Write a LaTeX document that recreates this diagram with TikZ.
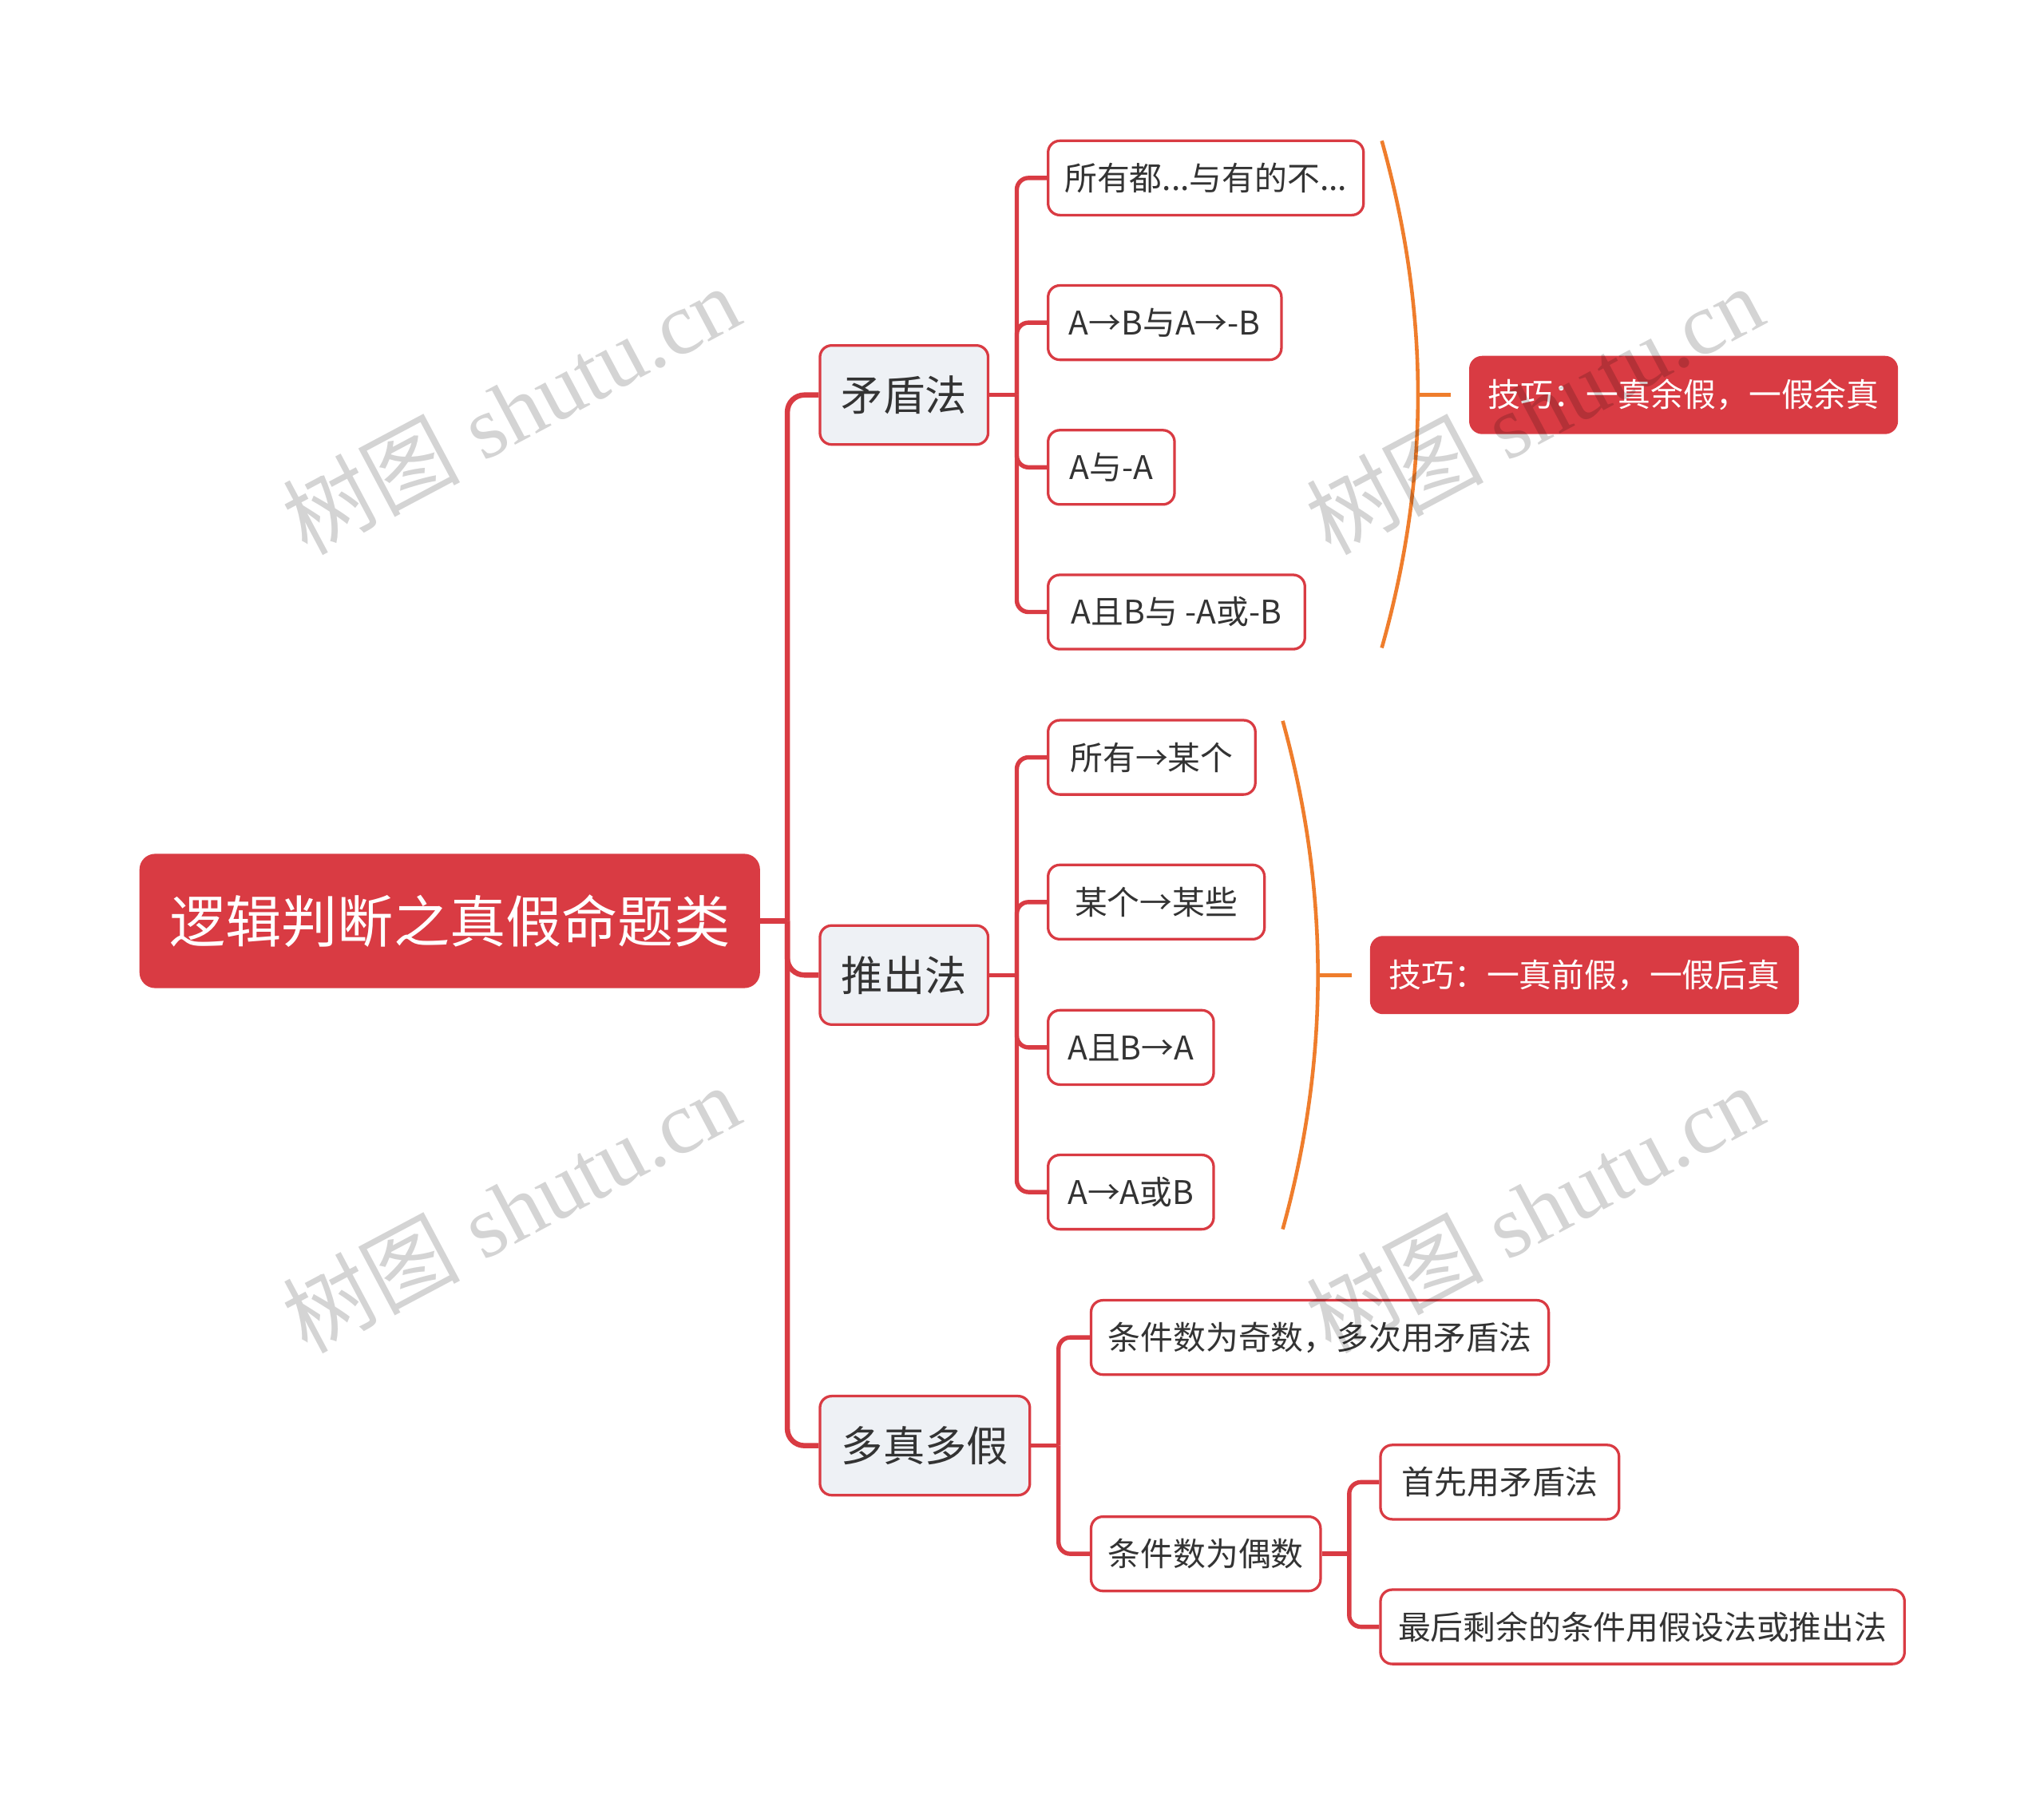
\documentclass[tikz,border=0pt]{standalone}
\usepackage{fontspec}
\setmainfont{Noto Sans CJK SC}
\newfontfamily\wmlat{Liberation Serif}
\newfontfamily\wmcjk{Noto Sans CJK SC}
\definecolor{mred}{HTML}{D93B43}
\definecolor{mgray}{HTML}{EEF1F5}
\definecolor{morange}{HTML}{EF7D2C}
\definecolor{mtext}{HTML}{333333}
\tikzset{
  box/.style={draw=mred, line width=2pt, rounded corners=9pt, anchor=west, inner xsep=6pt, inner ysep=0pt, text=mtext, align=center},
  leaf/.style={box, fill=white, font=\fontsize{25}{30}\selectfont, minimum height=57pt},
  mid/.style={box, fill=mgray, font=\fontsize{32}{38}\selectfont, minimum height=76pt},
  rootbox/.style={box, fill=mred, text=white, font=\fontsize{43}{50}\selectfont, minimum height=101pt, rounded corners=11pt},
  tip/.style={box, fill=mred, text=white, font=\fontsize{25}{30}\selectfont, minimum height=58pt},
  conn/.style={draw=mred, line width=3.3pt, rounded corners=9pt},
  rootconn/.style={draw=mred, line width=4pt, rounded corners=13pt},
  bracecurve/.style={draw=morange, line width=2.8pt},
  wm/.style={text=black, text opacity=0.17, rotate=28, inner sep=0pt}
}
\begin{document}
\begin{tikzpicture}[x=1pt, y=-1pt]
\useasboundingbox (0,0) rectangle (1568,1385);
\fill[white] (0,0) rectangle (1568,1385);

% junction coordinates
\coordinate (j0) at (604,706.5);
\coordinate (j1) at (780,303);
\coordinate (j2) at (780,748);
\coordinate (j3) at (812,1109);
\coordinate (j32) at (1035,1192);

% nodes
\node[rootbox, minimum width=474pt] (root) at (107,706.5) {逻辑判断之真假命题类};
\node[mid, minimum width=129pt] (c1) at (628,303) {矛盾法};
\node[mid, minimum width=129pt] (c2) at (628,748) {推出法};
\node[mid, minimum width=161pt] (c3) at (628,1109) {多真多假};

\node[leaf, minimum width=242pt] (l11) at (803,136.5) {所有都...与有的不...};
\node[leaf, minimum width=179pt] (l12) at (803,247.5) {A→B与A→-B};
\node[leaf, minimum width=97pt] (l13) at (803,358.5) {A与-A};
\node[leaf, minimum width=197pt] (l14) at (803,469.5) {A且B与 -A或-B};

\node[leaf, minimum width=159pt] (l21) at (803,581) {所有→某个};
\node[leaf, minimum width=166pt] (l22) at (803,692) {某个→某些};
\node[leaf, minimum width=127pt] (l23) at (803,803.5) {A且B→A};
\node[leaf, minimum width=127pt] (l24) at (803,914.5) {A→A或B};

\node[leaf, minimum width=351pt] (l31) at (836,1026) {条件数为奇数，多次用矛盾法};
\node[leaf, minimum width=176pt] (l32) at (836,1192) {条件数为偶数};
\node[leaf, minimum width=183pt] (l321) at (1058,1137) {首先用矛盾法};
\node[leaf, minimum width=402pt] (l322) at (1058,1248) {最后剩余的条件用假设法或推出法};

\node[tip, minimum width=327pt] (s1) at (1127,303) {技巧：一真余假，一假余真};
\node[tip, minimum width=327pt] (s2) at (1051,748) {技巧：一真前假，一假后真};

% connectors
\draw[rootconn] (root.east) -- (j0);
\foreach \c in {c1,c2,c3} \draw[rootconn] (j0) |- (\c.west);
\draw[conn] (c1.east) -- (j1);
\foreach \c in {l11,l12,l13,l14} \draw[conn] (j1) |- (\c.west);
\draw[conn] (c2.east) -- (j2);
\foreach \c in {l21,l22,l23,l24} \draw[conn] (j2) |- (\c.west);
\draw[conn] (c3.east) -- (j3);
\foreach \c in {l31,l32} \draw[conn] (j3) |- (\c.west);
\draw[conn] (l32.east) -- (j32);
\foreach \c in {l321,l322} \draw[conn] (j32) |- (\c.west);

% summary braces
\coordinate (b1t) at (1060,108);
\coordinate (b1m) at (1088,303);
\coordinate (b1b) at (1060,497);
\coordinate (b1e) at (1113,303);
\draw[bracecurve] (b1t) .. controls (1097,240) and (1097,366) .. (b1b);
\draw[bracecurve] (b1m) -- (b1e);

\coordinate (b2t) at (984,553);
\coordinate (b2m) at (1011,748);
\coordinate (b2b) at (984,943);
\coordinate (b2e) at (1037,748);
\draw[bracecurve] (b2t) .. controls (1020,683) and (1020,813) .. (b2b);
\draw[bracecurve] (b2m) -- (b2e);

% watermarks
\foreach \p [count=\i] in {(392,314),(1177,314),(392,927),(1177,927)}
  \node[wm] (wm\i) at \p {\fontsize{68}{80}\selectfont\wmcjk 树图\wmlat{} shutu.cn};
\end{tikzpicture}
\end{document}
